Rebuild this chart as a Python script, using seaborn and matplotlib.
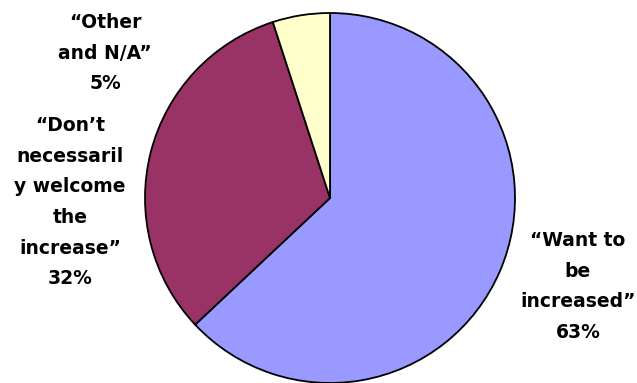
import matplotlib
matplotlib.use("Agg")
import matplotlib.pyplot as plt
import seaborn as sns

# Survey answers (percent)
labels = ["\u201cWant to\nbe\nincreased\u201d",
          "\u201cDon\u2019t\nnecessaril\ny welcome\nthe\nincrease\u201d",
          "\u201cOther\nand N/A\u201d"]
shares = [63, 32, 5]
colors = ["#9999FF", "#993366", "#FFFFCC"]

sns.set_theme(style="white")
plt.rcParams['font.family'] = ['DejaVu Sans']

W, H = 637, 383
fig = plt.figure(figsize=(W / 100, H / 100), dpi=100)
cx, cy, r = 330, 198, 185
ax = fig.add_axes([(cx - r) / W, (H - cy - r) / H, 2 * r / W, 2 * r / H])
ax.pie(shares, colors=colors, startangle=90, counterclock=False,
       wedgeprops=dict(edgecolor="black", linewidth=1.3))
ax.set_xlim(-1, 1)
ax.set_ylim(-1, 1)
ax.set_aspect("equal")

# label positions in pixels (center x, top y)
label_pos = [(578, 231), (70, 116), (105, 13)]
for lab, val, (px, py) in zip(labels, shares, label_pos):
    fig.text(px / W, 1 - py / H, f"{lab}\n{val}%", ha="center", va="top",
             fontsize=13.5, fontweight="bold", linespacing=1.78, color="black")

fig.savefig("out.png", dpi=100)
